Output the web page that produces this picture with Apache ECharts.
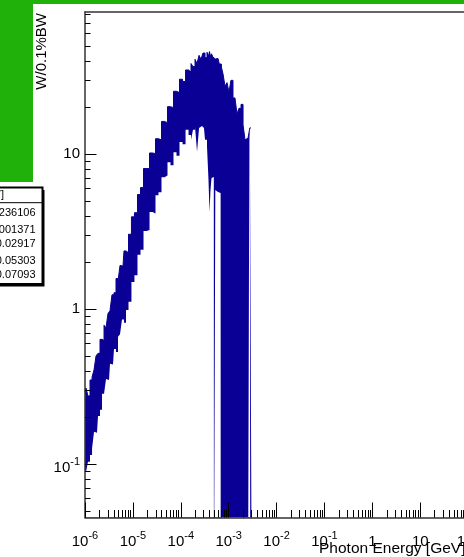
<!DOCTYPE html>
<html><head><meta charset="utf-8">
<script src="https://cdn.jsdelivr.net/npm/echarts@6/dist/echarts.min.js"></script>
<style>html,body{margin:0;padding:0;background:#fff;overflow:hidden}#c{width:464px;height:557px}</style>
</head><body><div id="c"></div>
<script>
// ---- data ----
const energyGeV = [1.00e-6,1.10e-6,1.21e-6,1.34e-6,1.47e-6,1.62e-6,1.78e-6,1.96e-6,2.16e-6,2.38e-6,
  2.62e-6,2.88e-6,3.17e-6,3.49e-6,3.84e-6,4.23e-6,4.66e-6,5.13e-6,5.64e-6,6.21e-6,
  6.84e-6,7.53e-6,8.70e-6,1.00e-5,1.16e-5,1.34e-5,1.55e-5,1.79e-5,2.07e-5,2.39e-5,
  2.76e-5,3.18e-5,3.68e-5,4.25e-5,4.91e-5,5.67e-5,6.55e-5,7.57e-5,8.74e-5,1.01e-4,
  1.17e-4,1.35e-4,1.56e-4,1.71e-4,1.89e-4,2.08e-4,2.29e-4,2.52e-4,2.77e-4,3.05e-4,
  3.36e-4,3.70e-4,3.88e-4,4.07e-4,4.27e-4,4.48e-4,4.89e-4,4.93e-4,5.23e-4,5.28e-4,
  5.98e-4,6.78e-4,6.84e-4,7.25e-4,7.98e-4,8.78e-4,9.67e-4,1.06e-3,1.17e-3,1.29e-3,
  1.42e-3,1.56e-3,1.72e-3,1.90e-3,2.09e-3,2.30e-3,2.53e-3,2.68e-3,2.71e-3,2.81e-3,
  2.84e-3,2.98e-3];
// upper envelope of the fluctuating histogram (W/0.1%BW)
const upperW = [0.293,0.311,0.276,0.350,0.366,0.406,0.500,0.520,0.640,0.630,
  0.790,0.760,0.940,0.980,1.24,1.28,1.58,1.52,1.92,1.90,
  2.38,2.32,3.05,3.95,4.20,5.50,6.10,8.10,8.10,10.2,
  10.1,12.6,12.4,16.3,16.0,20.3,20.0,25.5,25.0,30.5,
  29.5,35.0,34.0,38.5,36.8,41.0,38.5,43.5,41.0,45.0,
  42.0,45.5,43.0,46.0,42.5,44.5,42.4,42.4,41.2,41.2,
  41.5,38.3,38.2,36.5,33.0,27.5,29.0,25.2,30.0,23.1,
  23.5,18.2,19.8,21.0,15.5,12.4,12.7,12.4,12.4,14.8,
  14.8,14.8];
// lower envelope (0.01 = bins going down off the bottom of the frame)
const lowerW = [0.0919,0.0892,0.104,0.115,0.127,0.162,0.160,0.205,0.225,0.285,
  0.280,0.355,0.350,0.445,0.440,0.555,0.530,0.665,0.690,0.860,
  0.820,0.990,1.12,1.50,1.66,2.25,2.42,3.20,3.25,4.25,
  4.15,5.45,5.70,7.10,7.30,8.90,8.50,10.3,9.80,12.0,
  11.6,14.4,13.3,12.4,14.4,15.0,10.4,14.8,15.2,14.8,
  12.4,11.2,6.83,4.24,5.88,7.03,7.14,0.01,0.01,5.88,
  5.71,5.63,0.01,0.01,0.01,0.01,0.01,0.01,0.01,0.01,
  0.01,0.01,0.01,0.01,0.01,0.01,0.01,0.01,12.4,14.8,
  0.01,0.01];
const xMajorExp = [-6,-5,-4,-3,-2,-1,0,1,2,3];
const yMajorExp = [-1,0,1];
const minorMult = [2,3,4,5,6,7,8,9];
const xRangeGeV = [1e-6, 1e3];
const yRangeW = [0.0454, 82.8];
const statsNames = ['Entries','Mean','Std Dev','Mean y','Std Dev y'];
const statsValues = ['236106','0.001371','0.02917','0.05303','0.07093'];
const xTitle = 'Photon Energy [GeV]';
const yTitle = 'W/0.1%BW';

// ---- build ----
const L = Math.log10;
const FONT = '"Liberation Sans", Arial, Helvetica, sans-serif';
const BLUE = '#0a0096';
const GREEN = '#20b20a';
const upperPts = energyGeV.map((e,i)=>[L(e), L(upperW[i])]);
const lowerPts = energyGeV.map((e,i)=>[L(e), L(lowerW[i])]);
function minorList(exps){const out=[];exps.forEach(n=>minorMult.forEach(k=>out.push(n+L(k))));return out;}
const xMin=L(xRangeGeV[0]), xMax=L(xRangeGeV[1]), yMin=L(yRangeW[0]), yMax=L(yRangeW[1]);
const xMinor = minorList([-6,-5,-4,-3,-2,-1,0,1,2]).filter(v=>v>xMin&&v<xMax);
const yMinor = minorList([-2,-1,0,1]).filter(v=>v>yMin&&v<yMax);

const rich = {
  b:{fontSize:15,fontFamily:FONT,color:'#000',padding:[7,0,0,0],lineHeight:15},
  s:{fontSize:11,fontFamily:FONT,color:'#000',verticalAlign:'top',lineHeight:11},
  p:{fontSize:15,fontFamily:FONT,color:'#000',lineHeight:15}
};
function xLab(v){const e=Math.round(v); if(e===0) return '{b|1}'; if(e===1) return '{b|10}'; return '{b|10}{s|'+e+'}';}
function yLab(v){const e=Math.round(v); if(e===0) return '{p|1}'; if(e===1) return '{p|10}'; return '{b|10}{s|'+e+'}';}

const chart = echarts.init(document.getElementById('c'), null, {renderer:'canvas'});
const graphics = [
  {type:'rect',shape:{x:0,y:0,width:464,height:4},style:{fill:GREEN},z:0},
  {type:'rect',shape:{x:0,y:0,width:33,height:182},style:{fill:GREEN},z:0},
  {type:'text',x:-9,y:147,style:{text:'D',fill:'#fff',font:'bold 24px '+FONT,align:'center',verticalAlign:'middle'},z:1},
  {type:'rect',shape:{x:-80,y:190,width:124.5,height:96.5},style:{fill:'#000'},z:1},
  {type:'rect',shape:{x:-82,y:187.5,width:124.5,height:96.5},style:{fill:'#fff',stroke:'#000',lineWidth:2},z:2},
  {type:'line',shape:{x1:-82,y1:202.7,x2:42.5,y2:202.7},style:{stroke:'#000',lineWidth:1},z:3},
  {type:'text',x:4,y:195,style:{text:xTitle,fill:'#000',font:'11px '+FONT,align:'right',verticalAlign:'middle'},z:3},
  {type:'text',x:42,y:13,rotation:Math.PI/2,style:{text:yTitle,fill:'#000',font:'15px '+FONT,align:'right',verticalAlign:'middle'},z:3},
  {type:'text',x:319,y:549,style:{text:xTitle,fill:'#000',font:'15.5px '+FONT,align:'left',verticalAlign:'middle'},z:3}
];
const rowY = [212.7,230,244,260.7,275.3];
statsNames.forEach((n,i)=>{
  graphics.push({type:'text',x:-78,y:rowY[i],style:{text:n,fill:'#000',font:'11px '+FONT,align:'left',verticalAlign:'middle'},z:3});
  graphics.push({type:'text',x:35.5,y:rowY[i],style:{text:statsValues[i],fill:'#000',font:'11px '+FONT,align:'right',verticalAlign:'middle'},z:3});
});

const axisLineStyle = {color:'#333',width:1.5};
chart.setOption({
  animation:false,
  backgroundColor:'#fff',
  grid:{left:85,top:12,bottom:39.5,right:-52.1,containLabel:false,outerBoundsMode:'none'},
  xAxis:[
    {type:'value',min:xMin,max:xMax,position:'bottom',z:5,
     axisLine:{show:true,onZero:false,lineStyle:axisLineStyle},
     axisTick:{show:true,inside:true,length:15,customValues:xMajorExp,lineStyle:{color:'#000',width:1}},
     axisLabel:{show:true,customValues:xMajorExp,formatter:xLab,rich:rich,margin:13},
     splitLine:{show:false}},
    {type:'value',min:xMin,max:xMax,position:'bottom',offset:0,z:5,
     axisLine:{show:false,onZero:false},
     axisTick:{show:true,inside:true,length:7.5,customValues:xMinor,lineStyle:{color:'#000',width:1}},
     axisLabel:{show:false},splitLine:{show:false}},
    {type:'value',min:xMin,max:xMax,position:'top',offset:0,z:5,
     axisLine:{show:true,onZero:false,lineStyle:axisLineStyle},
     axisTick:{show:false},axisLabel:{show:false},splitLine:{show:false}}
  ],
  yAxis:[
    {type:'value',min:yMin,max:yMax,position:'left',z:5,
     axisLine:{show:true,onZero:false,lineStyle:axisLineStyle},
     axisTick:{show:true,inside:true,length:11.5,customValues:yMajorExp,lineStyle:{color:'#000',width:1}},
     axisLabel:{show:true,customValues:yMajorExp,formatter:yLab,rich:rich,margin:5},
     splitLine:{show:false}},
    {type:'value',min:yMin,max:yMax,position:'left',offset:0,z:5,
     axisLine:{show:false,onZero:false},
     axisTick:{show:true,inside:true,length:5.5,customValues:yMinor,lineStyle:{color:'#000',width:1}},
     axisLabel:{show:false},splitLine:{show:false}}
  ],
  graphic:graphics,
  series:[
    {name:'upper',type:'line',step:'middle',xAxisIndex:0,yAxisIndex:0,data:upperPts,
     symbol:'none',lineStyle:{color:BLUE,width:1},areaStyle:{color:BLUE,opacity:1,origin:'start'},silent:true,z:2},
    {name:'lower',type:'line',step:'middle',xAxisIndex:0,yAxisIndex:0,data:lowerPts,
     symbol:'none',lineStyle:{width:0,opacity:0},areaStyle:{color:'#fff',opacity:1,origin:'start'},silent:true,z:3}
  ]
});
</script></body></html>
